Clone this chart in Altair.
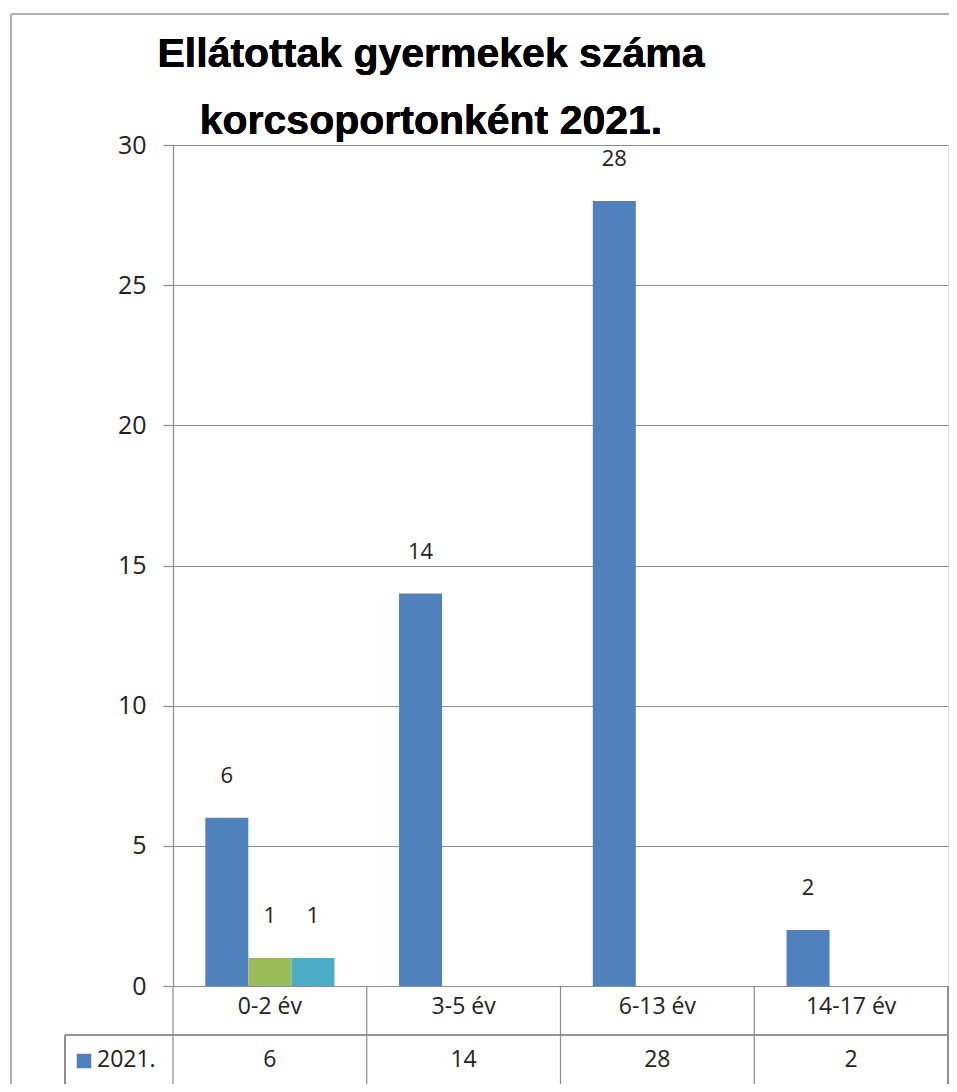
import altair as alt
import pandas as pd

categories = ["0-2 év", "3-5 év", "6-13 év", "14-17 év"]
series_names = ["2021.", "Sorozat2", "Sorozat3"]
values_2021 = [6, 14, 28, 2]
values_s2 = [1, None, None, None]
values_s3 = [1, None, None, None]
colors = ["#4F81BD", "#9BBB59", "#4BACC6"]
title_lines = ["Ellátottak gyermekek száma", "korcsoportonként 2021."]
y_ticks = [0, 5, 10, 15, 20, 25, 30]

rows = []
for name, vals in zip(series_names, [values_2021, values_s2, values_s3]):
    for c, v in zip(categories, vals):
        if v is not None:
            rows.append({"kategoria": c, "sorozat": name, "ertek": v})
df = pd.DataFrame(rows)
table_df = pd.DataFrame({"kategoria": categories, "ertek": values_2021})
legend_df = pd.DataFrame({"sorozat": [series_names[0]]})

W, H = 775, 841
GRID = "#8c8c8c"
FONT = "Open Sans"

xscale = alt.Scale(domain=categories, paddingInner=0, paddingOuter=0)
yscale = alt.Scale(domain=[0, 30])
cscale = alt.Scale(domain=series_names, range=colors)
offscale = alt.Scale(domain=series_names, paddingInner=0, paddingOuter=0.75)

base = alt.Chart(df)

bars = base.mark_bar(size=43).encode(
    x=alt.X("kategoria:N", scale=xscale, sort=categories,
            axis=alt.Axis(title=None, labelAngle=0, ticks=False, domain=False,
                          labelFontSize=23, labelFont=FONT, labelColor="#222",
                          labelPadding=9, labelBaseline="top")),
    xOffset=alt.XOffset("sorozat:N", sort=series_names, scale=offscale),
    y=alt.Y("ertek:Q", scale=yscale,
            axis=alt.Axis(title=None, values=y_ticks, grid=True, gridColor=GRID,
                          gridWidth=1.2, domainColor=GRID, domainWidth=1.2,
                          tickColor=GRID, tickSize=10, tickWidth=1.2,
                          labelFontSize=25, labelFont=FONT, labelColor="#222",
                          labelPadding=17)),
    color=alt.Color("sorozat:N", scale=cscale, legend=None),
)

labels = base.mark_text(fontSize=22, font=FONT, color="#222", dy=-42, baseline="middle").encode(
    x=alt.X("kategoria:N", scale=xscale, sort=categories),
    xOffset=alt.XOffset("sorozat:N", sort=series_names, scale=offscale),
    y=alt.Y("ertek:Q", scale=yscale),
    text="ertek:Q",
)

tbl = alt.Chart(table_df)
table_text = tbl.mark_text(fontSize=23, font=FONT, color="#222", baseline="middle").encode(
    x=alt.X("kategoria:N", scale=xscale, sort=categories),
    y=alt.value(H + 74),
    text="ertek:Q",
)

vlines = tbl.mark_rule(color=GRID, strokeWidth=1.2).encode(
    x=alt.X("kategoria:N", scale=xscale, sort=categories, bandPosition=0),
    y=alt.value(H),
    y2=alt.value(H + 110),
)
right_line = tbl.mark_rule(color=GRID, strokeWidth=1.2).encode(
    x=alt.value(W), y=alt.value(H), y2=alt.value(H + 110))
left_cell = tbl.mark_rule(color=GRID, strokeWidth=1.2).encode(
    x=alt.value(-108), y=alt.value(H + 49), y2=alt.value(H + 110))
hline1 = tbl.mark_rule(color=GRID, strokeWidth=1.2).encode(
    x=alt.value(-108), x2=alt.value(W), y=alt.value(H + 49))
hline2 = tbl.mark_rule(color=GRID, strokeWidth=1.2).encode(
    x=alt.value(-108), x2=alt.value(W), y=alt.value(H + 99))

leg = alt.Chart(legend_df)
leg_sym = leg.mark_square(size=210, opacity=1).encode(
    x=alt.value(-89), y=alt.value(H + 75),
    color=alt.Color("sorozat:N", scale=cscale, legend=None),
)
leg_txt = leg.mark_text(fontSize=23, font=FONT, color="#222", align="left", baseline="middle").encode(
    x=alt.value(-76), y=alt.value(H + 74), text="sorozat:N",
)

title_mark = tbl.mark_text(
    text=title_lines, font="Liberation Sans",
    fontSize=41, fontWeight="bold", color="#000", align="center", baseline="alphabetic",
    lineHeight=67,
).encode(x=alt.value(258), y=alt.value(-78))

frame_left = tbl.mark_rule(color="#b0b0b0", strokeWidth=2).encode(
    x=alt.value(-162), y=alt.value(-131), y2=alt.value(H + 120))
frame_top = tbl.mark_rule(color="#b0b0b0", strokeWidth=2).encode(
    x=alt.value(-162), x2=alt.value(W + 20), y=alt.value(-131))

chart = alt.layer(
    bars, labels, table_text, vlines, right_line, left_cell, hline1, hline2,
    leg_sym, leg_txt, frame_left, frame_top, title_mark,
).properties(
    width=W, height=H,
    autosize=alt.AutoSizeParams(type="none"),
    padding={"left": 165, "top": 137, "right": 1, "bottom": 98},
).configure_view(stroke=None).configure(background="white")

chart.save("out.html", embed_options={"renderer": "svg", "actions": False})
